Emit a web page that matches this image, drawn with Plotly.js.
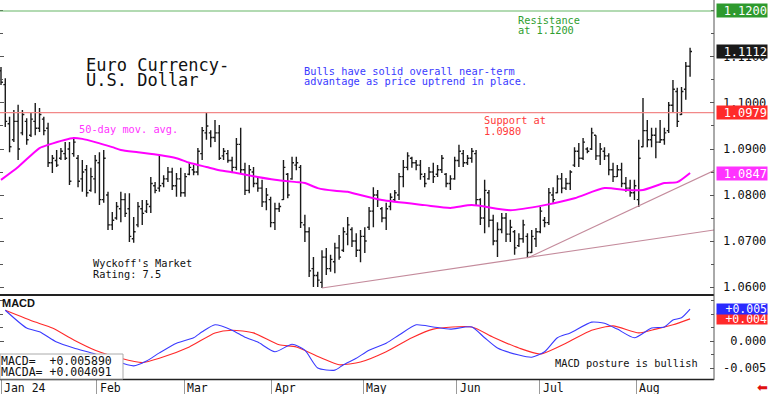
<!DOCTYPE html>
<html><head><meta charset="utf-8">
<script src="https://cdn.plot.ly/plotly-3.0.1.min.js"></script>
<style>html,body{margin:0;padding:0;background:#fff}#c{width:768px;height:394px}</style>
</head><body><div id="c"></div>
<script>
// ---- price bars (trading-day index 0..161, Jan 2 .. mid Aug 2024) ----
const opens=[1.1070,1.1040,1.0955,1.0920,1.0960,1.0935,1.0960,1.0930,1.0960,1.0945,1.0965,1.0945,1.0870,1.0875,1.0880,1.0890,1.0900,1.0890,1.0880,1.0835,1.0855,1.0810,1.0835,1.0870,1.0790,1.0800,1.0735,1.0750,1.0770,1.0790,1.0770,1.0705,1.0735,1.0770,1.0765,1.0775,1.0820,1.0815,1.0825,1.0835,1.0850,1.0820,1.0835,1.0805,1.0845,1.0855,1.0850,1.0890,1.0935,1.0935,1.0925,1.0935,1.0885,1.0890,1.0875,1.0860,1.0910,1.0855,1.0810,1.0850,1.0825,1.0815,1.0785,1.0790,1.0740,1.0770,1.0790,1.0845,1.0835,1.0865,1.0860,1.0735,1.0720,1.0640,1.0625,1.0610,1.0665,1.0640,1.0655,1.0685,1.0680,1.0715,1.0725,1.0700,1.0680,1.0710,1.0730,1.0765,1.0800,1.0770,1.0750,1.0775,1.0790,1.0800,1.0840,1.0860,1.0880,1.0870,1.0865,1.0840,1.0835,1.0850,1.0845,1.0855,1.0845,1.0825,1.0835,1.0875,1.0890,1.0870,1.0880,1.0890,1.0790,1.0750,1.0805,1.0745,1.0700,1.0725,1.0750,1.0715,1.0720,1.0690,1.0705,1.0710,1.0675,1.0705,1.0720,1.0745,1.0740,1.0800,1.0805,1.0835,1.0815,1.0825,1.0865,1.0895,1.0880,1.0900,1.0900,1.0930,1.0885,1.0895,1.0885,1.0855,1.0840,1.0855,1.0825,1.0815,1.0805,1.0790,1.0905,1.0940,1.0920,1.0930,1.0915,1.0920,1.0940,1.0995,1.1025,1.0975,1.1030,1.1080];
const highs=[1.1078,1.1054,1.0970,1.0985,1.0996,1.0985,1.0967,1.0978,1.1000,1.0989,1.0970,1.0957,1.0887,1.0898,1.0902,1.0915,1.0915,1.0924,1.0887,1.0876,1.0865,1.0859,1.0887,1.0893,1.0898,1.0807,1.0763,1.0785,1.0807,1.0804,1.0804,1.0752,1.0785,1.0789,1.0789,1.0839,1.0828,1.0887,1.0843,1.0861,1.0859,1.0848,1.0859,1.0848,1.0870,1.0865,1.0902,1.0948,1.0978,1.0941,1.0963,1.0952,1.0902,1.0898,1.0883,1.0924,1.0946,1.0870,1.0865,1.0861,1.0839,1.0833,1.0815,1.0796,1.0783,1.0783,1.0876,1.0848,1.0883,1.0883,1.0865,1.0757,1.0730,1.0665,1.0633,1.0680,1.0685,1.0670,1.0696,1.0713,1.0730,1.0752,1.0730,1.0717,1.0724,1.0730,1.0774,1.0817,1.0811,1.0774,1.0783,1.0804,1.0811,1.0848,1.0876,1.0893,1.0883,1.0876,1.0876,1.0848,1.0861,1.0870,1.0865,1.0887,1.0848,1.0843,1.0883,1.0909,1.0898,1.0887,1.0902,1.0898,1.0793,1.0833,1.0811,1.0757,1.0741,1.0761,1.0761,1.0746,1.0724,1.0717,1.0746,1.0717,1.0724,1.0728,1.0774,1.0752,1.0815,1.0817,1.0843,1.0848,1.0837,1.0854,1.0904,1.0913,1.0924,1.0904,1.0946,1.0930,1.0913,1.0904,1.0891,1.0870,1.0865,1.0870,1.0839,1.0833,1.0833,1.0920,1.1011,1.0963,1.0946,1.0946,1.0963,1.0946,1.1002,1.1050,1.1033,1.1035,1.1089,1.1120];
const lows=[1.1039,1.0948,1.0893,1.0915,1.0876,1.0930,1.0909,1.0926,1.0930,1.0937,1.0930,1.0861,1.0848,1.0861,1.0876,1.0876,1.0822,1.0883,1.0817,1.0807,1.0796,1.0807,1.0804,1.0778,1.0783,1.0724,1.0724,1.0746,1.0741,1.0752,1.0698,1.0696,1.0730,1.0735,1.0761,1.0761,1.0804,1.0807,1.0817,1.0828,1.0811,1.0796,1.0796,1.0796,1.0843,1.0843,1.0843,1.0876,1.0920,1.0904,1.0915,1.0876,1.0876,1.0870,1.0850,1.0854,1.0848,1.0800,1.0804,1.0817,1.0807,1.0774,1.0767,1.0730,1.0724,1.0763,1.0789,1.0793,1.0833,1.0854,1.0728,1.0698,1.0622,1.0600,1.0600,1.0598,1.0626,1.0633,1.0630,1.0659,1.0676,1.0691,1.0687,1.0665,1.0654,1.0674,1.0724,1.0730,1.0774,1.0741,1.0724,1.0767,1.0785,1.0789,1.0817,1.0854,1.0859,1.0854,1.0833,1.0817,1.0833,1.0826,1.0839,1.0848,1.0817,1.0811,1.0833,1.0861,1.0861,1.0865,1.0870,1.0778,1.0735,1.0717,1.0730,1.0691,1.0665,1.0717,1.0698,1.0698,1.0670,1.0687,1.0696,1.0663,1.0674,1.0687,1.0717,1.0730,1.0735,1.0783,1.0804,1.0804,1.0811,1.0811,1.0861,1.0861,1.0876,1.0891,1.0898,1.0876,1.0865,1.0876,1.0843,1.0828,1.0839,1.0817,1.0807,1.0796,1.0789,1.0774,1.0904,1.0904,1.0904,1.0880,1.0913,1.0909,1.0935,1.0978,1.0948,1.0974,1.1007,1.1057];
const closes=[1.1045,1.0960,1.0905,1.0960,1.0900,1.0975,1.0920,1.0965,1.0945,1.0975,1.0940,1.0870,1.0880,1.0865,1.0895,1.0880,1.0830,1.0915,1.0830,1.0850,1.0805,1.0840,1.0875,1.0790,1.0880,1.0735,1.0745,1.0775,1.0790,1.0760,1.0710,1.0720,1.0775,1.0760,1.0780,1.0825,1.0810,1.0820,1.0835,1.0850,1.0820,1.0835,1.0805,1.0840,1.0860,1.0850,1.0895,1.0940,1.0950,1.0925,1.0935,1.0880,1.0895,1.0875,1.0860,1.0910,1.0855,1.0810,1.0855,1.0825,1.0815,1.0785,1.0800,1.0740,1.0770,1.0775,1.0860,1.0800,1.0870,1.0870,1.0740,1.0720,1.0635,1.0625,1.0615,1.0665,1.0640,1.0660,1.0685,1.0665,1.0720,1.0735,1.0700,1.0680,1.0710,1.0700,1.0765,1.0800,1.0790,1.0750,1.0770,1.0795,1.0805,1.0840,1.0860,1.0885,1.0870,1.0865,1.0845,1.0825,1.0850,1.0840,1.0855,1.0880,1.0825,1.0835,1.0875,1.0895,1.0870,1.0880,1.0895,1.0790,1.0750,1.0810,1.0745,1.0700,1.0725,1.0750,1.0715,1.0730,1.0685,1.0705,1.0735,1.0675,1.0710,1.0720,1.0765,1.0740,1.0805,1.0790,1.0835,1.0815,1.0825,1.0850,1.0895,1.0880,1.0915,1.0895,1.0935,1.0885,1.0900,1.0885,1.0855,1.0840,1.0855,1.0825,1.0815,1.0805,1.0820,1.0880,1.0940,1.0920,1.0930,1.0915,1.0920,1.0935,1.0995,1.1030,1.0960,1.1025,1.1080,1.1112];

// ---- 50-day moving average (read at sample positions) ----
const maIdx=[0,4,9,11,17,19,22,26,28,32,37,41,44,48,51,55,60,64,69,71,74,78,81,83,89,99,105,110,119,127,134,141,146,150,155,158,161];
const maVal=[1.0833,1.0861,1.0902,1.0909,1.0924,1.0922,1.0915,1.0904,1.0898,1.0893,1.0887,1.0880,1.0870,1.0861,1.0854,1.0848,1.0839,1.0833,1.0828,1.0826,1.0815,1.0809,1.0807,1.0802,1.0789,1.0778,1.0772,1.0778,1.0767,1.0778,1.0793,1.0815,1.0811,1.0811,1.0826,1.0828,1.0848];

// ---- MACD (blue) and MACDA signal (red) ----
const macdIdx=[1,6,9,13,17,22,26,31,34,37,41,45,47,50,54,57,60,64,68,71,74,78,80,83,86,90,93,97,101,105,110,113,116,121,124,127,130,133,138,141,144,148,152,155,157,159,161];
const macdVal=[0.0057,0.0024,0.0017,-0.0002,-0.0013,-0.0024,-0.0035,-0.0046,-0.0037,-0.0022,-0.0004,0.0006,0.0017,0.0030,0.0020,0.0007,-0.0002,-0.0020,-0.0006,-0.0017,-0.0050,-0.0054,-0.0044,-0.0032,-0.0017,-0.0004,0.0011,0.0030,0.0026,0.0022,0.0026,0.0006,-0.0013,-0.0026,-0.0030,-0.0020,0.0006,0.0015,0.0035,0.0033,0.0022,0.0006,0.0024,0.0026,0.0039,0.0043,0.0059];
const sigIdx=[1,8,12,17,22,28,33,37,44,50,54,59,65,69,75,79,84,90,96,101,110,115,121,126,132,138,143,149,153,157,161];
const sigVal=[0.0057,0.0035,0.0024,0.0002,-0.0017,-0.0032,-0.0040,-0.0032,-0.0011,0.0015,0.0020,0.0015,-0.0007,-0.0011,-0.0032,-0.0044,-0.0039,-0.0020,0.0006,0.0022,0.0026,0.0007,-0.0013,-0.0024,-0.0004,0.0020,0.0028,0.0015,0.0022,0.0030,0.0041];

// ---- trend lines, levels, axis labels ----
const trend1X=[75,166.6], trend1Y=[1.0598,1.0724];
const trend2X=[123,166.6], trend2Y=[1.0663,1.0853];
const resistance=1.1200, support=1.0979, lastClose=1.1112, lastMA=1.0847;
const lastMACD=0.005890, lastMACDA=0.004091;
const monthLabels=["Jan 24","Feb","Mar","Apr","May","Jun","Jul","Aug"];
const monthPos=[0,22.4,42.8,63.3,84.6,106.5,125.9,148.4];
const priceTickVals=[1.06,1.07,1.08,1.09,1.10,1.11];
const priceTickText=["1.0600","1.0700","1.0800","1.0900","1.1000","1.1100"];
const macdTickVals=[-0.005,0];
const macdTickText=["-0.005","\u00a00.000"];

const W=768,H=394,MR=54,MB=15;
const PW=W-MR, PH=H-MB;
const px=x=>x/PW, py=y=>1-y/PH;
const MONO='DejaVu Sans Mono, monospace';
const idx=opens.map((_,i)=>i);

const traces=[
 {x:trend1X,y:trend1Y,mode:'lines',line:{color:'#c48b9c',width:1.1},xaxis:'x',yaxis:'y',hoverinfo:'skip'},
 {x:trend2X,y:trend2Y,mode:'lines',line:{color:'#c48b9c',width:1.1},xaxis:'x',yaxis:'y',hoverinfo:'skip'},
 {type:'ohlc',x:idx,open:opens,high:highs,low:lows,close:closes,tickwidth:0.45,
  increasing:{line:{color:'#1a1a1a',width:1.4}},decreasing:{line:{color:'#1a1a1a',width:1.4}},
  xaxis:'x',yaxis:'y',hoverinfo:'skip'},
 {x:maIdx,y:maVal,mode:'lines',line:{color:'#ff00ff',width:2,shape:'spline',smoothing:0.6},xaxis:'x',yaxis:'y',hoverinfo:'skip'},
 {x:sigIdx,y:sigVal,mode:'lines',line:{color:'#ff2a2a',width:1.1,shape:'spline',smoothing:0.6},xaxis:'x',yaxis:'y2',hoverinfo:'skip'},
 {x:macdIdx,y:macdVal,mode:'lines',line:{color:'#3a3aff',width:1.1,shape:'spline',smoothing:0.6},xaxis:'x',yaxis:'y2',hoverinfo:'skip'}
];

function txt(text,x,y,color,size,extra){
  return Object.assign({xref:'paper',yref:'paper',x:px(x),y:py(y),xanchor:'left',yanchor:'middle',
   text:text,showarrow:false,font:{family:MONO,size:size,color:color},borderpad:0},extra||{});
}
function box(text,yv,yref,bg,h,fs){
  return {xref:'paper',x:1,xanchor:'left',xshift:2,yref:yref,y:yv,yanchor:'middle',text:text,showarrow:false,
   bgcolor:bg,font:{family:MONO,size:fs||12,color:'#fff'},width:50,height:h||13,align:'right',borderpad:0};
}
const annotations=[
 txt('Euro Currency-',85,65,'#111',17),
 txt('U.S. Dollar',85,80,'#111',17),
 txt('Bulls have solid overall near-term',303,70.5,'#3a3aff',10.3),
 txt('advantage as price uptrend in place.',303,81,'#3a3aff',10.3),
 txt('Resistance',517,19.5,'#2f9e2f',10.3),
 txt('at 1.1200',517,30.5,'#2f9e2f',10.3),
 txt('Support at',483,120,'#ff3a3a',10.3),
 txt('1.0980',483,131,'#ff3a3a',10.3),
 txt('50-day mov. avg.',78,128.5,'#ff33ff',10.3),
 txt("Wyckoff's Market",92,263,'#111',10.3),
 txt('Rating: 7.5',92,274,'#111',10.3),
 txt('MACD posture is bullish',554,363,'#111',10.3),
 txt('<b>MACD</b>',1,303,'#111',11,{font:{family:'Liberation Sans, Arial, sans-serif',size:11,color:'#111'}}),
 txt('MACD=  +'+lastMACD.toFixed(6),0,361,'#111',11.5),
 txt('MACDA= +'+lastMACDA.toFixed(6),0,372,'#111',11.5),
 box('1.1200',resistance,'y','#2e9a2e'),
 box('1.1112',lastClose,'y','#1a1a1a'),
 box('1.0979',support,'y','#ff2a2a'),
 box('1.0847',lastMA,'y','#ff33ff'),
 box('+0.004',lastMACDA,'y2','#ff2a2a',10,11.5),
 box('+0.005',lastMACD,'y2','#2a2aff',10,11.5),
 {xref:'paper',yref:'paper',x:px(762),y:py(387),xanchor:'center',yanchor:'middle',text:'\u2b05',showarrow:false,
  font:{family:'DejaVu Sans',size:13,color:'#e01010'}}
];
monthLabels.forEach((m,i)=>annotations.push({xref:'x',x:monthPos[i],xanchor:'left',xshift:2,yref:'paper',y:py(387.5),
  yanchor:'middle',text:m,showarrow:false,font:{family:MONO,size:11.5,color:'#111'},borderpad:0}));

const shapes=[
 {type:'line',xref:'paper',x0:0,x1:1,yref:'y',y0:resistance,y1:resistance,line:{color:'#66b566',width:1.2}},
 {type:'line',xref:'paper',x0:0,x1:1,yref:'y',y0:support,y1:support,line:{color:'#f28888',width:1.2}},
 {type:'line',xref:'paper',x0:0,x1:1,yref:'paper',y0:py(295),y1:py(295),line:{color:'#222',width:2}},
 {type:'line',xref:'paper',x0:0,x1:1,yref:'paper',y0:py(379.5),y1:py(379.5),line:{color:'#222',width:1.5}},
 {type:'line',xref:'paper',x0:1,x1:1,yref:'paper',y0:py(380),y1:1,line:{color:'#555',width:1}},
 {type:'rect',xref:'paper',x0:0,x1:px(123),yref:'paper',y0:py(379),y1:py(354),fillcolor:'#fff',line:{color:'#aaa',width:1},layer:'above'}
];

const yCommon={side:'right',ticks:'inside',ticklen:4,tickcolor:'#555',mirror:'ticks',showline:false,showgrid:false,
  zeroline:false,fixedrange:true,tickfont:{family:MONO,size:12,color:'#111'},ticklabelstandoff:8,tickmode:'array'};
const layout={
 width:W,height:H,margin:{l:0,r:MR,t:0,b:MB,pad:0},paper_bgcolor:'#fff',plot_bgcolor:'#fff',showlegend:false,
 xaxis:{range:[-0.234,166.59],anchor:'y2',tickmode:'array',tickvals:monthPos,ticks:'outside',ticklen:15,tickcolor:'#9a9a9a',
   showticklabels:false,showgrid:false,zeroline:false,showline:false,rangeslider:{visible:false},fixedrange:true},
 yaxis:Object.assign({},yCommon,{domain:[py(295),1],range:[1.05826,1.12239],anchor:'x',tickvals:priceTickVals,ticktext:priceTickText,
   minor:{tickmode:'linear',tick0:1.06,dtick:0.005,ticks:'inside',ticklen:3,tickcolor:'#555'}}),
 yaxis2:Object.assign({},yCommon,{domain:[0,py(296)],range:[-0.007037,0.008333],anchor:'x',tickvals:macdTickVals,ticktext:macdTickText,
   minor:{tickmode:'linear',tick0:0,dtick:0.0025,ticks:'inside',ticklen:3,tickcolor:'#555'}}),
 shapes:shapes,annotations:annotations
};
Plotly.newPlot('c',traces,layout,{staticPlot:true,displayModeBar:false});
</script></body></html>
